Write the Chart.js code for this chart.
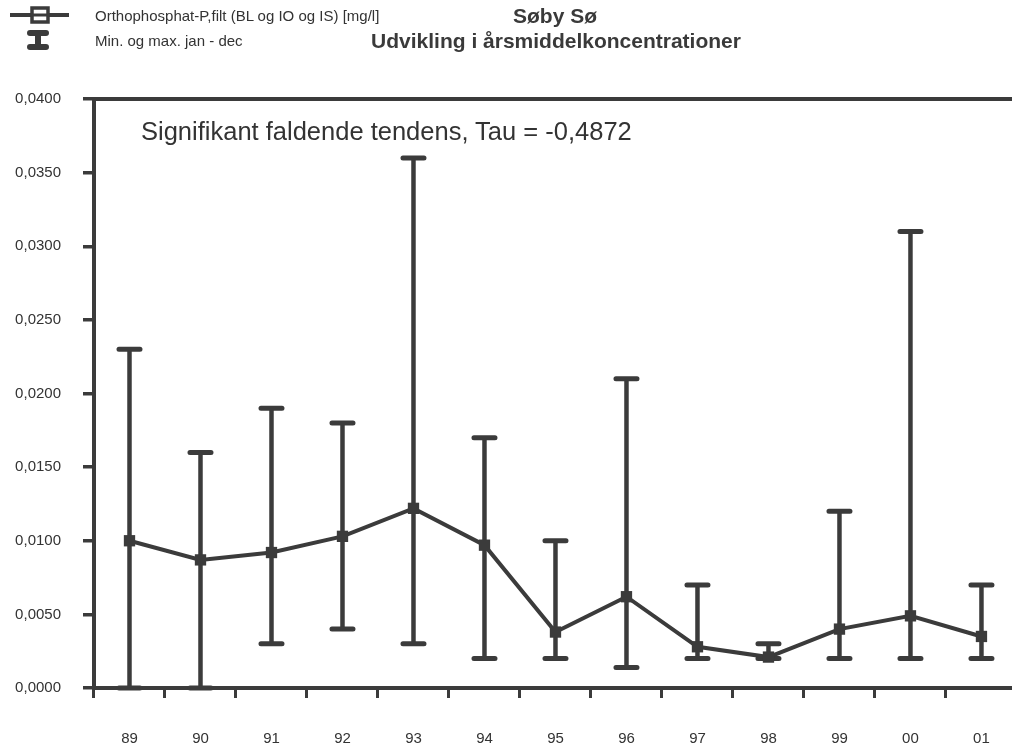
<!DOCTYPE html>
<html lang="da">
<head>
<meta charset="utf-8">
<title>Søby Sø – Orthophosphat-P</title>
<script src="https://cdn.jsdelivr.net/npm/chart.js@4.4.1/dist/chart.umd.min.js"></script>
<style>
  html, body { margin: 0; padding: 0; background: #fff; overflow: hidden; }
  #wrap { position: relative; width: 1012px; height: 748px; overflow: hidden; }
  canvas { position: absolute; left: 0; top: 0; }
  .txt {
    position: absolute; white-space: nowrap; line-height: 1;
    font-family: "Liberation Sans", Arial, sans-serif; color: #333;
    transform: translateY(-50%);
  }
  .legend { font-size: 15px; left: 95px; }
  .title { font-size: 21px; font-weight: bold; transform: translate(-50%, -50%); color: #3a3a3a; }
  .note { font-size: 25.5px; left: 141px; top: 132px; color: #333; }
</style>
</head>
<body>
<div id="wrap">
  <!-- plot runs slightly past the right edge of the page -->
  <canvas id="chart" width="1022" height="748"></canvas>
  <div class="txt legend" style="top:15px">Orthophosphat-P,filt (BL og IO og IS) [mg/l]</div>
  <div class="txt legend" style="top:40px">Min. og max. jan - dec</div>
  <div class="txt title" style="left:555px; top:15px">Søby Sø</div>
  <div class="txt title" style="left:556px; top:40px">Udvikling i årsmiddelkoncentrationer</div>
  <div class="txt note">Signifikant faldende tendens, Tau = -0,4872</div>
</div>
<script>
// Years (two-digit) on the category axis
const years = ['89', '90', '91', '92', '93', '94', '95', '96', '97', '98', '99', '00', '01'];
// Annual mean concentration, mg/l
const annualMean = [0.0100, 0.0087, 0.0092, 0.0103, 0.0122, 0.0097, 0.0038, 0.0062, 0.0028, 0.0021, 0.0040, 0.0049, 0.0035];
// Highest value Jan–Dec, mg/l
const annualMax = [0.0230, 0.0160, 0.0190, 0.0180, 0.0360, 0.0170, 0.0100, 0.0210, 0.0070, 0.0030, 0.0120, 0.0310, 0.0070];
// Lowest value Jan–Dec, mg/l
const annualMin = [0.0000, 0.0000, 0.0030, 0.0040, 0.0030, 0.0020, 0.0020, 0.0014, 0.0020, 0.0020, 0.0020, 0.0020, 0.0020];
// Value axis range and step
const yMin = 0, yMax = 0.04, yStep = 0.005;

const INK = '#3b3b3b';
const FONT = '"Liberation Sans", Arial, sans-serif';

// Min/max whiskers for each year, placed with the chart's own scales
const minMaxBars = {
  id: 'minMaxBars',
  beforeDatasetsDraw(chart) {
    const { ctx, scales: { x, y } } = chart;
    ctx.save();
    ctx.strokeStyle = INK;
    years.forEach((yr, i) => {
      const px = x.getPixelForValue(i);
      const top = y.getPixelForValue(annualMax[i]);
      const bot = y.getPixelForValue(annualMin[i]);
      ctx.lineCap = 'butt';
      ctx.lineWidth = 4.5;
      ctx.beginPath(); ctx.moveTo(px, top); ctx.lineTo(px, bot); ctx.stroke();
      ctx.lineCap = 'round';
      ctx.lineWidth = 5;
      ctx.beginPath();
      ctx.moveTo(px - 10.5, top); ctx.lineTo(px + 10.5, top);
      ctx.moveTo(px - 10.5, bot); ctx.lineTo(px + 10.5, bot);
      ctx.stroke();
    });
    ctx.restore();
  }
};

// Legend symbols in the header (series line with box, and the min/max whisker)
const headerSymbols = {
  id: 'headerSymbols',
  afterDraw(chart) {
    const ctx = chart.ctx;
    ctx.save();
    ctx.strokeStyle = INK;
    // line with hollow box
    ctx.lineWidth = 4;
    ctx.beginPath(); ctx.moveTo(10, 15); ctx.lineTo(69, 15); ctx.stroke();
    ctx.fillStyle = '#fff';
    ctx.fillRect(32, 8, 16, 14);
    ctx.lineWidth = 3.5;
    ctx.strokeRect(32, 8, 16, 14);
    ctx.lineWidth = 3;
    ctx.beginPath(); ctx.moveTo(32, 15); ctx.lineTo(48, 15); ctx.stroke();
    // whisker symbol
    ctx.lineCap = 'round';
    ctx.lineWidth = 6;
    ctx.beginPath();
    ctx.moveTo(30, 33); ctx.lineTo(46, 33);
    ctx.moveTo(30, 47); ctx.lineTo(46, 47);
    ctx.stroke();
    ctx.lineCap = 'butt';
    ctx.lineWidth = 6;
    ctx.beginPath(); ctx.moveTo(38, 33); ctx.lineTo(38, 47); ctx.stroke();
    ctx.restore();
  }
};

new Chart(document.getElementById('chart'), {
  type: 'line',
  data: {
    labels: years,
    datasets: [{
      label: 'Orthophosphat-P,filt (BL og IO og IS) [mg/l]',
      data: annualMean,
      borderColor: INK,
      backgroundColor: INK,
      borderWidth: 4,
      pointStyle: 'rect',
      pointRadius: 8,
      pointBorderWidth: 0,
      tension: 0
    }]
  },
  options: {
    responsive: false,
    animation: false,
    events: [],
    layout: { autoPadding: false, padding: { top: 99, left: 0, right: 0, bottom: 0 } },
    plugins: { legend: { display: false }, tooltip: { enabled: false }, title: { display: false } },
    scales: {
      x: {
        type: 'category',
        position: 'bottom',
        offset: true,
        grid: { display: true, drawOnChartArea: false, drawTicks: true, tickLength: 10, offset: true, color: INK, lineWidth: 3 },
        border: { display: true, color: INK, width: 4 },
        ticks: { color: '#333', padding: 32, font: { family: FONT, size: 15 }, maxRotation: 0 },
        afterFit: s => { s.height = 60; }
      },
      xTop: {
        type: 'category',
        position: 'top',
        labels: years,
        offset: true,
        grid: { display: false },
        border: { display: true, color: INK, width: 4 },
        ticks: { display: false },
        afterFit: s => { s.height = 0; }
      },
      y: {
        min: yMin,
        max: yMax,
        grid: { display: true, drawOnChartArea: false, drawTicks: true, tickLength: 11, color: INK, lineWidth: 3.5 },
        border: { display: true, color: INK, width: 4 },
        ticks: {
          stepSize: yStep,
          color: '#333',
          padding: 22,
          font: { family: FONT, size: 15 },
          callback: v => v.toFixed(4).replace('.', ',')
        },
        afterFit: s => { s.width = 94; }
      }
    }
  },
  plugins: [minMaxBars, headerSymbols]
});
</script>
</body>
</html>
